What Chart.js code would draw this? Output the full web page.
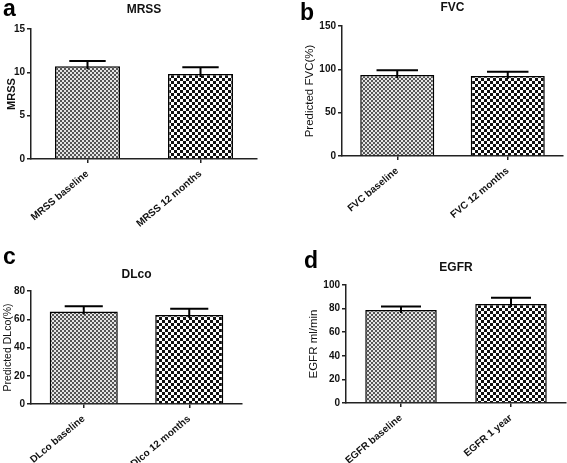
<!DOCTYPE html>
<html>
<head>
<meta charset="utf-8">
<script src="https://cdn.jsdelivr.net/npm/chart.js@4/dist/chart.umd.min.js"></script>
<style>
  body { margin: 0; background: #fff; }
  #wrap { position: relative; width: 567px; height: 463px; overflow: hidden; background: #fff; }
  canvas { position: absolute; }
  .letter { position: absolute; font: bold 23px "Liberation Sans", Arial, sans-serif; color: #000; line-height: 1; }
</style>
</head>
<body>
<div id="wrap">
  <canvas id="chartA" width="283" height="230" style="left:0;top:0"></canvas>
  <canvas id="chartB" width="284" height="230" style="left:283px;top:0"></canvas>
  <canvas id="chartC" width="283" height="233" style="left:0;top:230px"></canvas>
  <canvas id="chartD" width="284" height="233" style="left:283px;top:230px"></canvas>
  <div class="letter" style="left:3px;top:-3px">a</div>
  <div class="letter" style="left:300px;top:1px">b</div>
  <div class="letter" style="left:3px;top:245px">c</div>
  <div class="letter" style="left:304px;top:249px">d</div>
</div>
<script>
// values (mean and upper error)
const mrssLabels = ['MRSS baseline', 'MRSS 12 months'];
const mrssMeans = [10.7, 9.8];
const mrssErr = [0.6, 0.8];

const fvcLabels = ['FVC baseline', 'FVC 12 months'];
const fvcMeans = [93.5, 92.3];
const fvcErr = [5.5, 4.8];

const dlcoLabels = ['DLco baseline', 'Dlco 12 months'];
const dlcoMeans = [65.4, 63.0];
const dlcoErr = [3.8, 4.5];

const egfrLabels = ['EGFR baseline', 'EGFR 1 year'];
const egfrMeans = [78.9, 83.9];
const egfrErr = [2.9, 5.2];

const FONT = '"Liberation Sans", Arial, sans-serif';

// checkerboard fills like the original bars
function makeChecker(cell, dark, light) {
  const c = document.createElement('canvas');
  c.width = cell * 2;
  c.height = cell * 2;
  const ctx = c.getContext('2d');
  ctx.fillStyle = light;
  ctx.fillRect(0, 0, cell * 2, cell * 2);
  ctx.fillStyle = dark;
  ctx.fillRect(0, 0, cell, cell);
  ctx.fillRect(cell, cell, cell, cell);
  return ctx.createPattern(c, 'repeat');
}
const fineFill = makeChecker(2, '#555', '#e4e4e4');
const coarseFill = makeChecker(3, '#111', '#fff');

// draws the upward error whisker with a cap
const errorBars = {
  id: 'errorBars',
  afterDatasetsDraw(chart, args, opts) {
    const ctx = chart.ctx;
    const yScale = chart.scales.y;
    const meta = chart.getDatasetMeta(0);
    meta.data.forEach((bar, i) => {
      const val = chart.data.datasets[0].data[i];
      const yTop = yScale.getPixelForValue(val + opts.errors[i]);
      const half = bar.width * 0.28;
      ctx.save();
      ctx.strokeStyle = '#000';
      ctx.lineWidth = 2;
      ctx.beginPath();
      ctx.moveTo(bar.x, bar.y + 3);
      ctx.lineTo(bar.x, yTop);
      ctx.moveTo(bar.x - half, yTop);
      ctx.lineTo(bar.x + half, yTop);
      ctx.stroke();
      ctx.restore();
    });
  }
};

function makePanel(id, cfg) {
  return new Chart(document.getElementById(id), {
    type: 'bar',
    data: {
      labels: cfg.labels,
      datasets: [{
        data: cfg.means,
        backgroundColor: [fineFill, coarseFill],
        borderColor: '#000',
        borderWidth: 1.5,
        borderSkipped: 'bottom',
        barPercentage: cfg.barPct,
        categoryPercentage: 1
      }]
    },
    options: {
      responsive: false,
      animation: false,
      devicePixelRatio: 1,
      layout: { padding: { left: 0, right: cfg.padRight, top: 0, bottom: 0 } },
      plugins: {
        legend: { display: false },
        tooltip: { enabled: false },
        title: {
          display: true,
          text: cfg.title,
          fullSize: false,
          color: '#111',
          font: { family: FONT, size: 12, weight: 'bold', lineHeight: 1.2 },
          padding: { top: cfg.titleTop, bottom: cfg.titleBottom }
        },
        errorBars: { errors: cfg.errors }
      },
      scales: {
        x: {
          afterFit: (s) => { s.height = cfg.xHeight; },
          border: { color: '#222', width: 1.5 },
          grid: { display: true, drawOnChartArea: false, offset: false, tickLength: 4, color: '#222', lineWidth: 1.5 },
          ticks: {
            color: '#111', minRotation: 40, maxRotation: 40, padding: 5,
            font: { family: FONT, size: 10, weight: 'bold' }
          }
        },
        y: {
          min: 0,
          max: cfg.max,
          afterFit: (s) => { s.width = cfg.yWidth; },
          border: { color: '#222', width: 1.5 },
          grid: { display: true, drawOnChartArea: false, tickLength: 4, color: '#222', lineWidth: 1.5 },
          ticks: {
            stepSize: cfg.step, color: '#111', padding: 2,
            font: { family: FONT, size: 10, weight: 'bold' }
          },
          title: {
            display: true,
            text: cfg.yTitle,
            color: '#111',
            padding: { top: cfg.yTitleShift, bottom: 0 },
            font: { family: FONT, size: cfg.yTitleSize, weight: cfg.yTitleWeight }
          }
        }
      }
    },
    plugins: [errorBars]
  });
}

makePanel('chartA', {
  labels: mrssLabels, means: mrssMeans, errors: mrssErr, title: 'MRSS',
  max: 15, step: 5, yTitle: 'MRSS', yTitleSize: 11, yTitleWeight: 'bold', yTitleShift: 5,
  barPct: 0.575, padRight: 26, yWidth: 31, xHeight: 71, titleTop: 2.8, titleBottom: 11.8
});
makePanel('chartB', {
  labels: fvcLabels, means: fvcMeans, errors: fvcErr, title: 'FVC',
  max: 150, step: 50, yTitle: 'Predicted FVC(%)', yTitleSize: 11.5, yTitleWeight: 'normal', yTitleShift: 20,
  barPct: 0.67, padRight: 4, yWidth: 59, xHeight: 74, titleTop: 0.8, titleBottom: 10.8
});
makePanel('chartC', {
  labels: dlcoLabels, means: dlcoMeans, errors: dlcoErr, title: 'DLco',
  max: 80, step: 20, yTitle: 'Predicted DLco(%)', yTitleSize: 10.5, yTitleWeight: 'normal', yTitleShift: 2,
  barPct: 0.645, padRight: 41, yWidth: 31, xHeight: 59, titleTop: 37.8, titleBottom: 8.8
});
makePanel('chartD', {
  labels: egfrLabels, means: egfrMeans, errors: egfrErr, title: 'EGFR',
  max: 100, step: 20, yTitle: 'EGFR ml/min', yTitleSize: 11.5, yTitleWeight: 'normal', yTitleShift: 24,
  barPct: 0.65, padRight: 1, yWidth: 63, xHeight: 60, titleTop: 30.8, titleBottom: 9.8
});
</script>
</body>
</html>
